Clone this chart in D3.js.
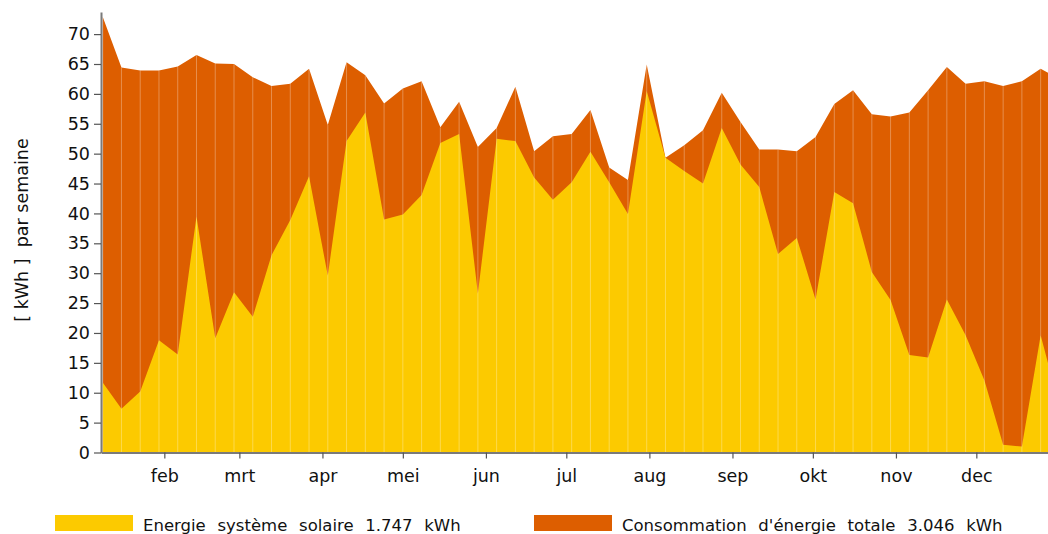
<!DOCTYPE html>
<html>
<head>
<meta charset="utf-8">
<script src="https://cdn.jsdelivr.net/npm/d3@7"></script>
<style>
  body { margin: 0; background: #fff; }
  svg { display: block; font-family: "DejaVu Sans", Verdana, sans-serif; }
</style>
</head>
<body>
<svg id="chart"></svg>
<script>
// weekly values, kWh per week
const firstWeek = new Date(2019, 0, 9);
const solar = [11.7, 7.3, 10.2, 18.8, 16.4, 39.5, 19.1, 26.8, 22.7, 33.0,
               38.9, 46.2, 29.6, 52.1, 56.9, 39.0, 39.8, 43.1, 51.8, 53.3,
               26.6, 52.5, 52.1, 46.0, 42.3, 45.2, 50.3, 45.2, 39.9, 60.5,
               49.3, 47.1, 45.0, 54.3, 48.2, 44.4, 33.2, 35.9, 25.6, 43.6,
               41.7, 30.2, 25.5, 16.3, 15.9, 25.6, 19.6, 12.1, 1.3, 1.0,
               19.6, 7.8];
const total = [72.9, 64.4, 63.9, 63.9, 64.6, 66.5, 65.1, 65.0, 62.8, 61.3,
               61.7, 64.2, 54.8, 65.3, 63.1, 58.4, 60.9, 62.1, 54.4, 58.7,
               51.1, 54.3, 61.2, 50.4, 52.9, 53.3, 57.3, 47.7, 45.6, 64.9,
               49.3, 51.4, 53.9, 60.2, 55.3, 50.7, 50.7, 50.4, 52.8, 58.3,
               60.6, 56.6, 56.2, 56.9, 60.6, 64.5, 61.7, 62.1, 61.3, 62.1,
               64.2, 62.5];
const monthLabels = ['jan', 'feb', 'mrt', 'apr', 'mei', 'jun', 'jul', 'aug', 'sep', 'okt', 'nov', 'dec'];
const yTicks = d3.range(0, 71, 5);
const legendLabels = ['Energie système solaire 1.747 kWh', "Consommation d'énergie totale 3.046 kWh"];

const settings = {
  width: 1048,
  height: 534,
  margin: { top: 12, bottom: 81.5, left: 101, right: 0 },
  colors: { solar: '#FCCA00', total: '#DD5E00' },
  axisColor: '#7a7a7a',
  textColor: '#111'
};
const m = settings.margin;
const plotW = settings.width - m.left - m.right;
const plotH = settings.height - m.top - m.bottom;

const data = total.map((t, i) => ({
  date: d3.timeDay.offset(firstWeek, 7 * i),
  total: t,
  solar: solar[i]
}));

const xScale = d3.scaleTime()
  .domain([new Date(2019, 0, 8, 8, 50), new Date(2019, 11, 27, 17, 50)])
  .range([m.left, m.left + plotW]);
const yScale = d3.scaleLinear()
  .domain([0, 73.7])
  .range([m.top + plotH, m.top]);

const svg = d3.select('#chart')
  .attr('width', settings.width)
  .attr('height', settings.height);

svg.append('clipPath').attr('id', 'plot-clip')
  .append('rect')
  .attr('x', m.left).attr('y', 0)
  .attr('width', plotW).attr('height', m.top + plotH);

const plot = svg.append('g').attr('clip-path', 'url(#plot-clip)');

const area = key => d3.area()
  .x(d => xScale(d.date))
  .y0(yScale(0))
  .y1(d => yScale(d[key]));

plot.append('path').datum(data)
  .attr('d', area('total'))
  .attr('fill', settings.colors.total);
plot.append('path').datum(data)
  .attr('d', area('solar'))
  .attr('fill', settings.colors.solar);

// thin light lines at every week
plot.selectAll('line.week')
  .data(data)
  .enter().append('line')
  .attr('class', 'week')
  .attr('x1', d => xScale(d.date)).attr('x2', d => xScale(d.date))
  .attr('y1', yScale(0))
  .attr('y2', d => yScale(Math.max(d.total, d.solar)))
  .attr('stroke', '#fff')
  .attr('stroke-opacity', 0.3)
  .attr('stroke-width', 1);

// axes
const yAxis = d3.axisLeft(yScale)
  .tickValues(yTicks)
  .tickSize(7)
  .tickSizeOuter(0)
  .tickPadding(4);
const gy = svg.append('g')
  .attr('transform', 'translate(' + m.left + ',0)')
  .call(yAxis);

const xAxis = d3.axisBottom(xScale)
  .ticks(d3.timeMonth.every(1))
  .tickFormat(d => monthLabels[d.getMonth()])
  .tickSize(6)
  .tickSizeOuter(0)
  .tickPadding(11);
const gx = svg.append('g')
  .attr('transform', 'translate(0,' + (m.top + plotH) + ')')
  .call(xAxis);

[gx, gy].forEach(g => {
  g.select('.domain').attr('stroke', settings.axisColor).attr('stroke-width', 2);
  g.selectAll('.tick line').attr('stroke', '#555').attr('stroke-width', 1.2);
  g.selectAll('.tick text')
    .attr('fill', settings.textColor)
    .style('font-size', '17.5px')
    .style('font-family', '"DejaVu Sans", Verdana, sans-serif');
});

svg.append('text')
  .attr('transform', 'translate(28,' + 230 + ') rotate(-90)')
  .attr('text-anchor', 'middle')
  .attr('fill', settings.textColor)
  .style('font-size', '17.5px')
  .style('white-space', 'pre')
  .text('[ kWh ]  par semaine');

// legend
const legend = svg.append('g').attr('class', 'legend');
const legendItems = [
  { label: legendLabels[0], color: settings.colors.solar, x: 55 },
  { label: legendLabels[1], color: settings.colors.total, x: 534 }
];
const item = legend.selectAll('g')
  .data(legendItems)
  .enter().append('g')
  .attr('transform', d => 'translate(' + d.x + ',515)');
item.append('rect')
  .attr('width', 78).attr('height', 16)
  .attr('fill', d => d.color);
item.append('text')
  .attr('x', 88).attr('y', 15.5)
  .attr('fill', settings.textColor)
  .style('font-size', '16.5px')
  .style('word-spacing', '6.5px')
  .text(d => d.label);
</script>
</body>
</html>
